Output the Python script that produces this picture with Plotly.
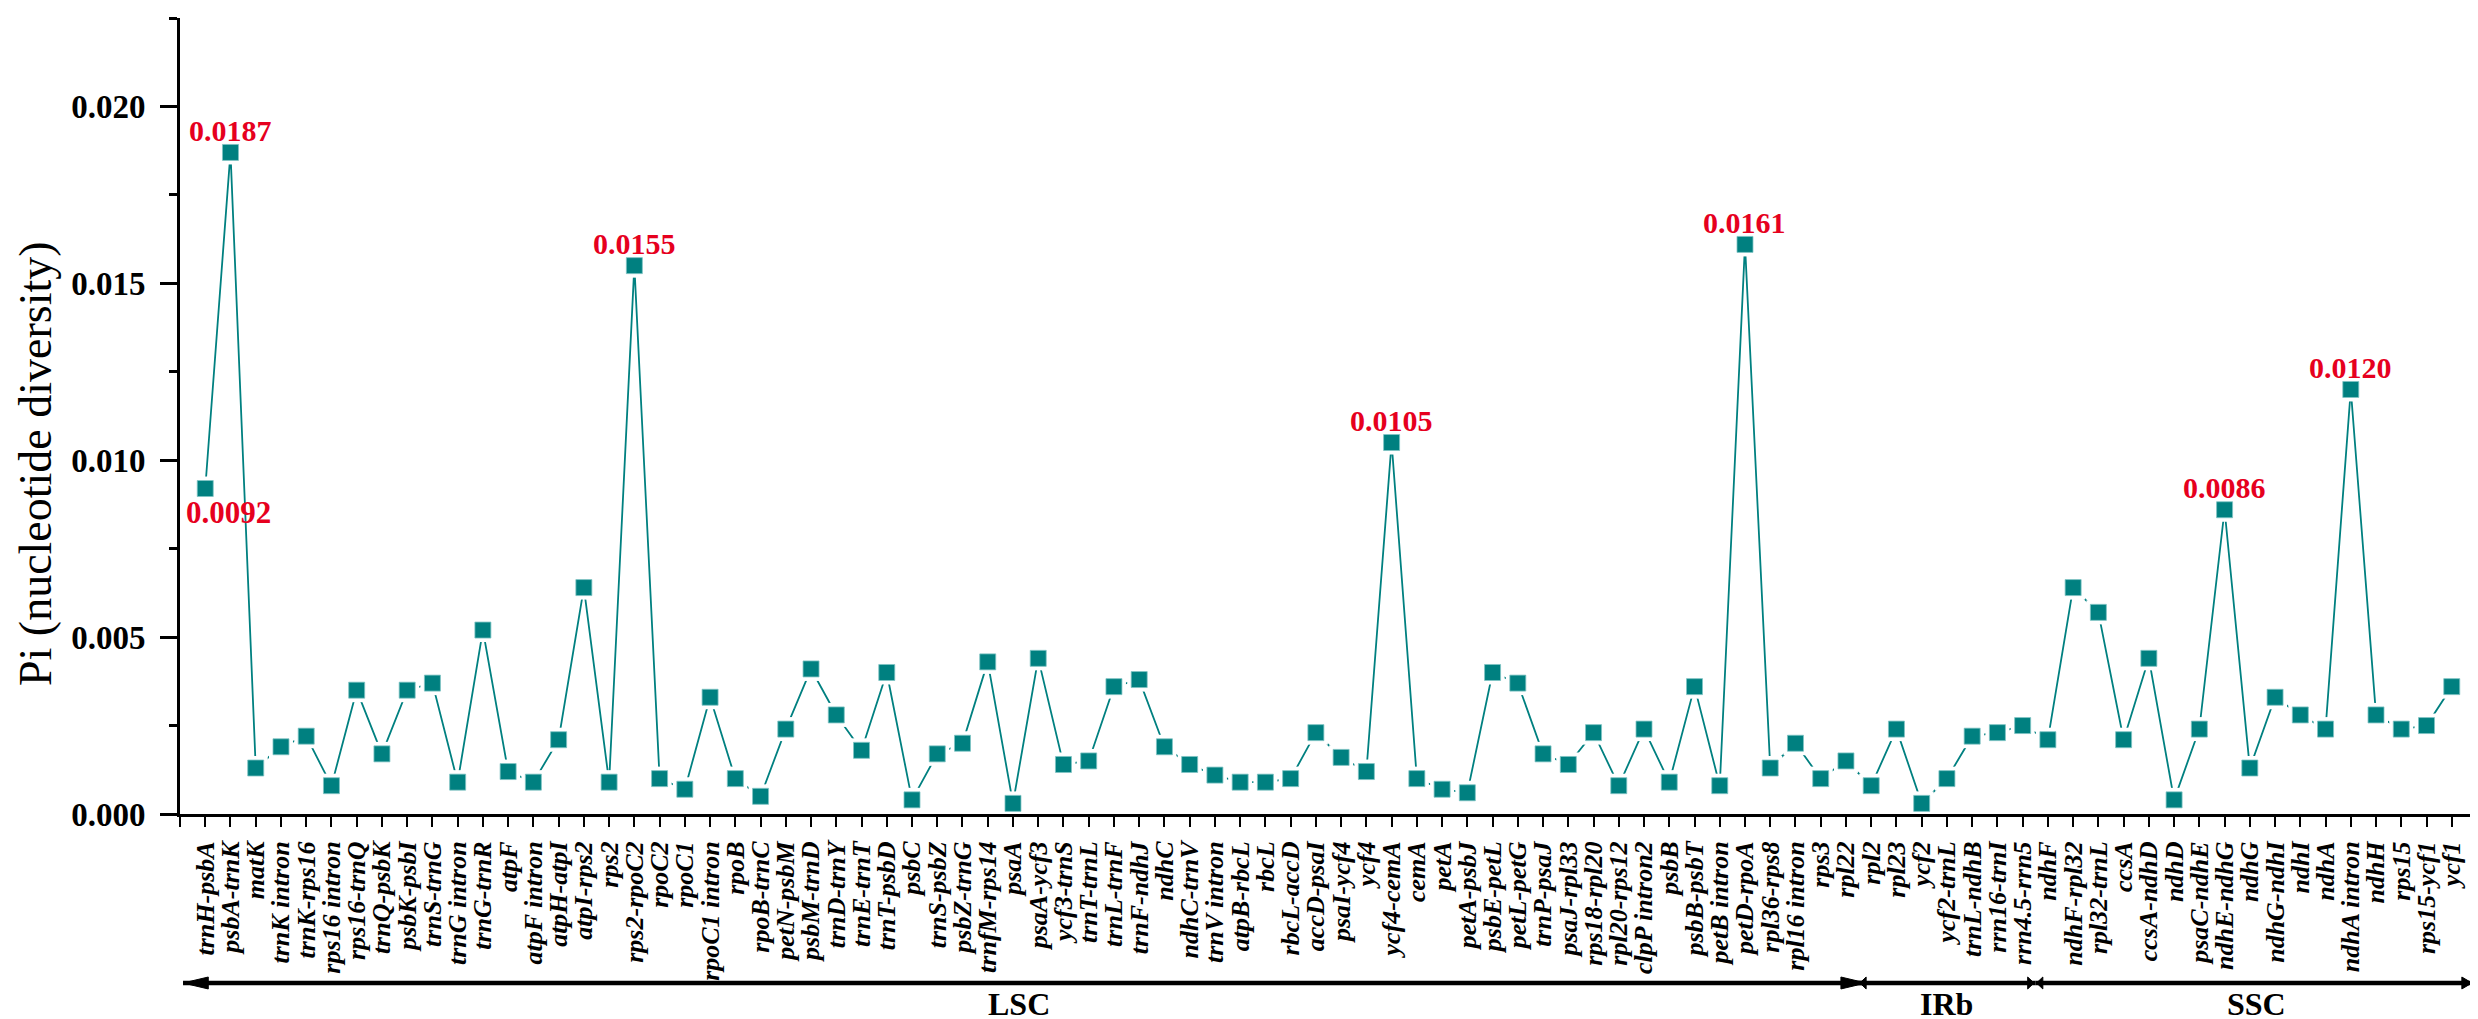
import plotly.graph_objects as go

# ---------------- data ----------------
regions = [
    "trnH-psbA", "psbA-trnK", "matK", "trnK intron", "trnK-rps16", "rps16 intron",
    "rps16-trnQ", "trnQ-psbK", "psbK-psbI", "trnS-trnG", "trnG intron", "trnG-trnR",
    "atpF", "atpF intron", "atpH-atpI", "atpI-rps2", "rps2", "rps2-rpoC2", "rpoC2",
    "rpoC1", "rpoC1 intron", "rpoB", "rpoB-trnC", "petN-psbM", "psbM-trnD",
    "trnD-trnY", "trnE-trnT", "trnT-psbD", "psbC", "trnS-psbZ", "psbZ-trnG",
    "trnfM-rps14", "psaA", "psaA-ycf3", "ycf3-trnS", "trnT-trnL", "trnL-trnF",
    "trnF-ndhJ", "ndhC", "ndhC-trnV", "trnV intron", "atpB-rbcL", "rbcL",
    "rbcL-accD", "accD-psaI", "psaI-ycf4", "ycf4", "ycf4-cemA", "cemA", "petA",
    "petA-psbJ", "psbE-petL", "petL-petG", "trnP-psaJ", "psaJ-rpl33", "rps18-rpl20",
    "rpl20-rps12", "clpP intron2", "psbB", "psbB-psbT", "petB intron", "petD-rpoA",
    "rpl36-rps8", "rpl16 intron", "rps3", "rpl22",
    "rpl2", "rpl23", "ycf2", "ycf2-trnL", "trnL-ndhB", "rrn16-trnI", "rrn4.5-rrn5",
    "ndhF", "ndhF-rpl32", "rpl32-trnL", "ccsA", "ccsA-ndhD", "ndhD", "psaC-ndhE",
    "ndhE-ndhG", "ndhG", "ndhG-ndhI", "ndhI", "ndhA", "ndhA intron", "ndhH",
    "rps15", "rps15-ycf1", "ycf1",
]

pi_values = [
    0.0092, 0.0187, 0.0013, 0.0019, 0.0022, 0.0008,
    0.0035, 0.0017, 0.0035, 0.0037, 0.0009, 0.0052,
    0.0012, 0.0009, 0.0021, 0.0064, 0.0009, 0.0155, 0.0010,
    0.0007, 0.0033, 0.0010, 0.0005, 0.0024, 0.0041,
    0.0028, 0.0018, 0.0040, 0.0004, 0.0017, 0.0020,
    0.0043, 0.0003, 0.0044, 0.0014, 0.0015, 0.0036,
    0.0038, 0.0019, 0.0014, 0.0011, 0.0009, 0.0009,
    0.0010, 0.0023, 0.0016, 0.0012, 0.0105, 0.0010, 0.0007,
    0.0006, 0.0040, 0.0037, 0.0017, 0.0014, 0.0023,
    0.0008, 0.0024, 0.0009, 0.0036, 0.0008, 0.0161,
    0.0013, 0.0020, 0.0010, 0.0015,
    0.0008, 0.0024, 0.0003, 0.0010, 0.0022, 0.0023, 0.0025,
    0.0021, 0.0064, 0.0057, 0.0021, 0.0044, 0.0004, 0.0024,
    0.0086, 0.0013, 0.0033, 0.0028, 0.0024, 0.0120, 0.0028,
    0.0024, 0.0025, 0.0036,
]

# highlighted peaks: (region, label, placement)
peak_labels = [
    ("trnH-psbA", "0.0092", "below"),
    ("psbA-trnK", "0.0187", "above"),
    ("rps2-rpoC2", "0.0155", "above"),
    ("ycf4-cemA", "0.0105", "above"),
    ("petD-rpoA", "0.0161", "above"),
    ("ndhE-ndhG", "0.0086", "above"),
    ("ndhA intron", "0.0120", "above"),
]

# genome segments: name, first region, last region
segments = [
    ("LSC", "trnH-psbA", "rpl22"),
    ("IRb", "rpl2", "rrn4.5-rrn5"),
    ("SSC", "ndhF", "ycf1"),
]

y_tick_vals = [0.000, 0.005, 0.010, 0.015, 0.020]
y_tick_text = ["0.000", "0.005", "0.010", "0.015", "0.020"]

# ---------------- styling ----------------
TEAL = "#008080"
RED = "#e6001e"
SERIF = "Liberation Serif"

xpos = list(range(1, len(regions) + 1))
pos_of = {r: i + 1 for i, r in enumerate(regions)}
n = len(regions)

fig = go.Figure()
fig.add_trace(go.Scatter(x=xpos, y=pi_values, mode="lines",
                         line=dict(color=TEAL, width=1.8), hoverinfo="skip",
                         showlegend=False))
# white halo to create the gap between line and symbol
fig.add_trace(go.Scatter(x=xpos, y=pi_values, mode="markers",
                         marker=dict(symbol="square", size=24, color="white",
                                     line=dict(width=0)),
                         hoverinfo="skip", showlegend=False))
fig.add_trace(go.Scatter(x=xpos, y=pi_values, mode="markers",
                         marker=dict(symbol="square", size=16, color=TEAL,
                                     line=dict(width=0.8, color="#7fc4c4")),
                         showlegend=False))

annotations = []
for reg, lab, place in peak_labels:
    i = pos_of[reg]
    v = pi_values[i - 1]
    if place == "above":
        annotations.append(dict(x=i, y=v, xref="x", yref="y", text=lab,
                                showarrow=False, xanchor="center", yanchor="middle",
                                yshift=22,
                                font=dict(family=SERIF, size=30, color=RED, weight="bold")))
    else:
        annotations.append(dict(x=i, y=v, xref="x", yref="y", text=lab,
                                showarrow=False, xanchor="center", yanchor="middle",
                                xshift=23, yshift=-24,
                                font=dict(family=SERIF, size=31, color=RED, weight="bold")))

# y axis title
annotations.append(dict(x=-0.063, y=0.44, xref="paper", yref="paper",
                        text="Pi (nucleotide diversity)", textangle=-90,
                        showarrow=False, xanchor="center", yanchor="middle",
                        font=dict(family=SERIF, size=46, color="black")))

# segment arrows below the axis
shapes = []
ARROW_Y = -0.2123
LABEL_Y = -0.2385
bounds = []
for name, first, last in segments:
    a = pos_of[first] - 0.5
    b = pos_of[last] + 0.5
    bounds.append((name, a, b))

def tri(tip, direction, length, half):
    base = tip - direction * length
    return dict(type="path", xref="x", yref="paper",
                path=f"M {tip},{ARROW_Y} L {base},{ARROW_Y + half} L {base},{ARROW_Y - half} Z",
                fillcolor="black", line=dict(color="black", width=1))

for k, (name, a, b) in enumerate(bounds):
    if k == 0:
        a = 0.12
        b = b + 0.3
    if k == len(bounds) - 1:
        b = n + 0.85
    shapes.append(dict(type="line", xref="x", yref="paper", x0=a, x1=b,
                       y0=ARROW_Y, y1=ARROW_Y, line=dict(color="black", width=4.5)))
    if k == 0:
        shapes.append(tri(a, -1, 1.0, 0.0075))
        shapes.append(tri(b, 1, 1.0, 0.0075))
    else:
        shapes.append(tri(a + 0.05, -1, 0.25, 0.0075))
        shapes.append(tri(b - 0.05, 1, 0.25 if k < len(bounds) - 1 else 0.4, 0.0075))
    mid = (pos_of[segments[k][1]] - 0.5 + pos_of[segments[k][2]] + 0.5) / 2
    if k == len(bounds) - 1:
        mid = (pos_of[segments[k][1]] - 0.5 + n + 1) / 2
    if k == 0:
        mid = (0 + pos_of[segments[k][2]] + 0.5) / 2
    annotations.append(dict(x=mid, y=LABEL_Y, xref="x", yref="paper", text=name,
                            showarrow=False, xanchor="center", yanchor="middle",
                            font=dict(family=SERIF, size=32, color="black", weight="bold")))

fig.update_layout(
    width=2478, height=1019,
    margin=dict(l=172, r=9, t=10, b=213),
    paper_bgcolor="white", plot_bgcolor="white",
    annotations=annotations, shapes=shapes,
    showlegend=False,
)

fig.update_xaxes(
    range=[0, n + 1],
    tickmode="array",
    tickvals=[0] + xpos + [n + 1],
    ticktext=[""] + regions + [""],
    tickangle=-90,
    ticks="outside", ticklen=10, tickwidth=2, tickcolor="black",
    ticklabelstandoff=4,
    showline=True, linewidth=3, linecolor="black",
    showgrid=False, zeroline=False, automargin=False,
    tickfont=dict(family=SERIF, size=26, color="black", weight="bold", style="italic"),
)
fig.update_yaxes(
    range=[0, 0.0225],
    tickmode="array", tickvals=y_tick_vals, ticktext=y_tick_text,
    ticks="outside", ticklen=17, tickwidth=3, tickcolor="black",
    ticklabelstandoff=8,
    minor=dict(dtick=0.0025, ticks="outside", ticklen=8, tickwidth=3,
               tickcolor="black", showgrid=False),
    showline=True, linewidth=3, linecolor="black",
    showgrid=False, zeroline=False, automargin=False,
    tickfont=dict(family=SERIF, size=33, color="black", weight="bold"),
)

fig.write_html("out.html")
